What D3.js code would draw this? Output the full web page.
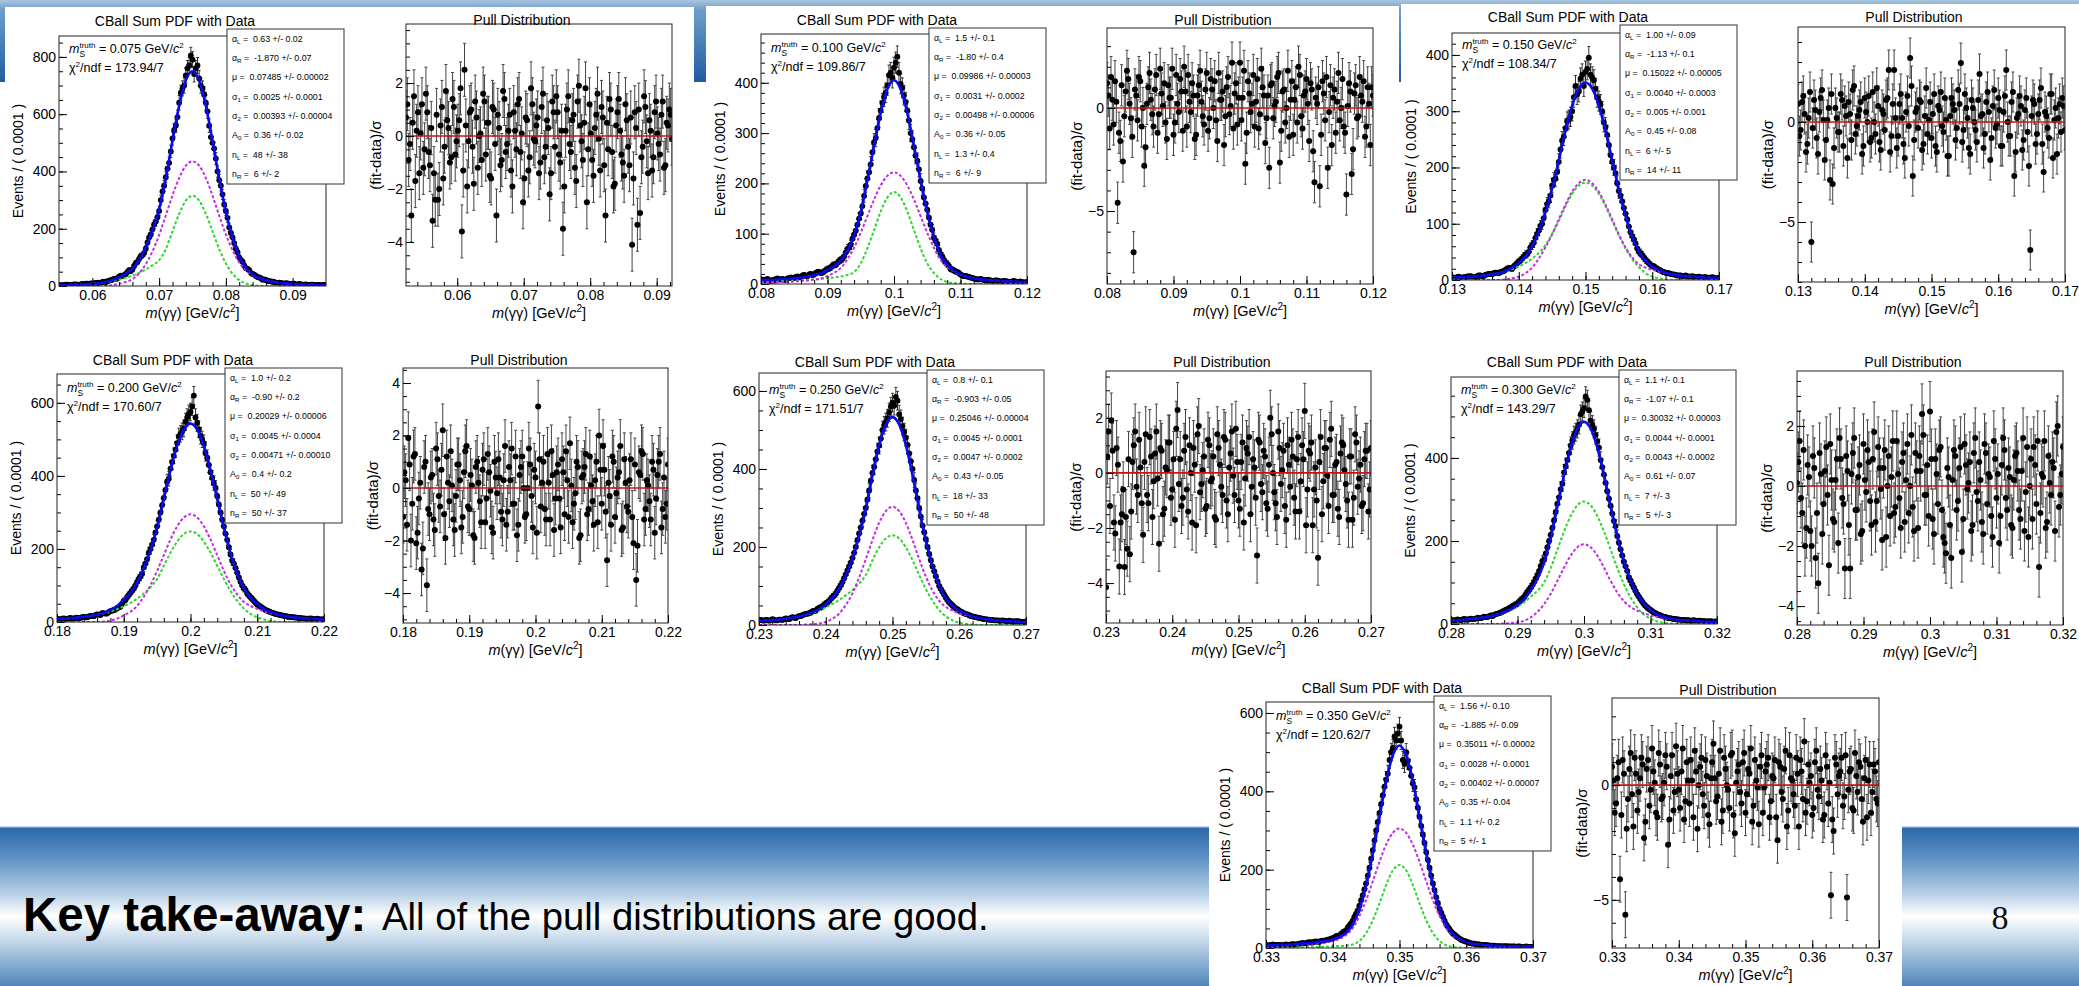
<!DOCTYPE html>
<html><head><meta charset="utf-8">
<script src="https://cdn.jsdelivr.net/npm/d3@7"></script>
<style>
html,body{margin:0;padding:0;background:#fff;overflow:hidden;}
svg{display:block;font-family:"Liberation Sans",Arial,Helvetica,sans-serif;}
</style></head>
<body><svg id="c" width="2079" height="986"></svg>
<script>
// ---------------- DATA ----------------
const massPoints = ["0.075","0.100","0.150","0.200","0.250","0.300","0.350"];
const chi2Ndf = ["173.94/7","109.86/7","108.34/7","170.60/7","171.51/7","143.29/7","120.62/7"];
const massRanges = [[0.055,0.095],[0.08,0.12],[0.13,0.17],[0.18,0.22],[0.23,0.27],[0.28,0.32],[0.33,0.37]];
const pullRanges = [[0.0523,0.0923],[0.08,0.12],[0.13,0.17],[0.18,0.22],[0.23,0.27],[0.28,0.32],[0.33,0.37]];
const eventsMax = [873,497,439,679,646,595,628];
const eventsTicks = [[0,200,400,600,800],[0,100,200,300,400],[0,100,200,300,400],[0,200,400,600],[0,200,400,600],[0,200,400],[0,200,400,600]];
const pullLimits = [[-5.66,4.23],[-8.54,3.88],[-8.0,4.75],[-5.14,4.57],[-5.45,3.7],[-4.63,3.83],[-7.1,3.8]];
const pullTicks = [[-4,-2,0,2],[-5,0],[-5,0],[-4,-2,0,2,4],[-4,-2,0,2],[-4,-2,0,2],[-5,0]];
const paramNames = [["α","L"],["α","R"],["μ",""],["σ","1"],["σ","2"],["A","0"],["n","L"],["n","R"]];
const paramValues = [
 ["0.63 +/- 0.02","-1.870 +/- 0.07","0.07485 +/- 0.00002","0.0025 +/- 0.0001","0.00393 +/- 0.00004","0.36 +/- 0.02","48 +/- 38","6 +/- 2"],
 ["1.5 +/- 0.1","-1.80 +/- 0.4","0.09986 +/- 0.00003","0.0031 +/- 0.0002","0.00498 +/- 0.00006","0.36 +/- 0.05","1.3 +/- 0.4","6 +/- 9"],
 ["1.00 +/- 0.09","-1.13 +/- 0.1","0.15022 +/- 0.00005","0.0040 +/- 0.0003","0.005 +/- 0.001","0.45 +/- 0.08","6 +/- 5","14 +/- 11"],
 ["1.0 +/- 0.2","-0.90 +/- 0.2","0.20029 +/- 0.00006","0.0045 +/- 0.0004","0.00471 +/- 0.00010","0.4 +/- 0.2","50 +/- 49","50 +/- 37"],
 ["0.8 +/- 0.1","-0.903 +/- 0.05","0.25046 +/- 0.00004","0.0045 +/- 0.0001","0.0047 +/- 0.0002","0.43 +/- 0.05","18 +/- 33","50 +/- 48"],
 ["1.1 +/- 0.1","-1.07 +/- 0.1","0.30032 +/- 0.00003","0.0044 +/- 0.0001","0.0043 +/- 0.0002","0.61 +/- 0.07","7 +/- 3","5 +/- 3"],
 ["1.56 +/- 0.10","-1.885 +/- 0.09","0.35011 +/- 0.00002","0.0028 +/- 0.0001","0.00402 +/- 0.00007","0.35 +/- 0.04","1.1 +/- 0.2","5 +/- 1"]
];
// fit curves sampled every 0.001 GeV across each mass range
const curveStep = 0.001;
const fitTotal = [
 [3,3,4,5,6,8,10,14,20,30,43,60,91,134,193,268,375,507,629,718,750,718,629,507,375,259,168,103,64,41,28,20,15,11,9,7,6,5,4,3,3],
 [8,8,8,10,10,12,13,15,18,21,28,35,47,67,96,143,206,275,340,387,405,387,340,275,206,143,94,58,38,27,19,14,11,9,8,7,6,5,5,4,4],
 [4,5,5,6,7,8,10,12,16,22,30,42,60,86,120,163,213,265,310,340,351,340,310,265,213,160,114,77,51,34,24,18,13,10,8,7,6,5,4,4,3],
 [8,9,10,12,14,17,20,25,33,44,61,80,108,147,196,258,337,416,482,527,543,527,482,416,337,258,188,133,92,66,49,36,27,21,17,14,12,10,9,8,7],
 [10,11,12,14,16,19,22,27,33,41,53,70,93,127,171,228,297,384,461,514,533,514,461,384,297,216,150,100,68,49,36,28,22,18,15,13,11,10,9,8,7],
 [8,9,10,12,14,16,19,23,29,36,46,60,82,109,148,208,283,359,425,471,487,471,425,359,283,211,151,105,72,49,34,23,17,13,10,9,8,7,6,5,5],
 [7,7,8,8,9,11,12,13,16,18,22,28,39,60,100,160,241,334,425,492,517,492,425,334,241,160,100,59,36,23,15,11,9,7,6,5,5,4,4,4,3]
];
const fitCompMagenta = [
 [0,0,0,0,0,0,0,1,3,8,14,24,45,76,121,178,246,316,377,420,435,420,377,316,246,180,125,82,55,38,27,20,15,11,9,7,6,5,4,3,3],
 [3,3,3,4,4,5,6,7,9,11,16,22,32,49,72,102,135,168,196,215,222,215,196,168,135,102,72,48,34,25,18,14,11,9,8,7,6,5,5,4,4],
 [0,0,0,0,0,0,0,0,1,3,6,12,22,38,58,81,108,134,157,172,178,172,157,134,108,81,58,40,28,22,18,15,12,10,8,7,6,5,4,4,3],
 [0,0,0,0,0,0,0,1,4,9,18,28,44,69,101,140,183,226,262,286,295,286,262,226,183,140,103,75,55,44,36,29,24,20,17,14,12,10,9,8,7],
 [0,0,0,0,0,0,0,1,2,4,8,16,29,51,81,122,169,218,262,292,303,292,262,218,169,124,88,62,46,37,30,25,21,18,15,13,11,10,9,8,7],
 [0,0,0,0,0,0,0,0,1,2,4,8,16,29,48,73,104,136,165,185,192,185,165,136,104,76,55,41,32,26,21,17,14,12,10,9,8,7,6,5,5],
 [6,6,7,7,8,9,10,11,13,15,18,23,33,51,82,122,170,220,264,294,305,294,264,220,170,122,82,52,33,22,15,11,9,7,6,5,5,4,4,4,3]
];
const fitCompGreen = [
 [3,3,4,5,6,8,10,13,17,22,29,36,46,58,72,90,129,191,252,298,315,298,252,191,129,79,43,21,9,3,1,0,0,0,0,0,0,0,0,0,0],
 [5,5,5,6,6,7,7,8,9,10,12,13,15,18,24,41,71,107,144,172,183,172,144,107,71,41,22,10,4,2,1,0,0,0,0,0,0,0,0,0,0],
 [4,5,5,6,7,8,10,12,15,19,24,30,38,48,62,82,105,131,153,168,173,168,153,131,105,79,56,37,23,12,6,3,1,0,0,0,0,0,0,0,0],
 [8,9,10,12,14,17,20,24,29,35,43,52,64,78,95,118,154,190,220,241,248,241,220,190,154,118,85,58,37,22,13,7,3,1,0,0,0,0,0,0,0],
 [10,11,12,14,16,19,22,26,31,37,45,54,64,76,90,106,128,166,199,222,230,222,199,166,128,92,62,38,22,12,6,3,1,0,0,0,0,0,0,0,0],
 [8,9,10,12,14,16,19,23,28,34,42,52,66,80,100,135,179,223,260,286,295,286,260,223,179,135,96,64,40,23,13,6,3,1,0,0,0,0,0,0,0],
 [1,1,1,1,1,2,2,2,3,3,4,5,6,9,18,38,71,114,161,198,212,198,161,114,71,38,18,7,3,1,0,0,0,0,0,0,0,0,0,0,0]
];
// event counts per 0.0001 GeV: one value every 0.0005 GeV from the range start ...
const dataStep = 0.0005;
const eventCounts = [
 [4,2,5,3,4,6,4,7,8,6,9,11,9,14,13,19,22,24,33,35,42,55,58,80,95,108,130,170,198,225,262,330,380,430,515,560,640,690,735,770,790,760,725,690,640,560,500,445,370,320,262,205,170,130,100,85,62,55,42,35,30,22,21,17,15,11,12,9,10,7,8,6,7,5,6,4,5,3,4,3,4],
 [9,7,10,6,8,11,9,8,11,13,12,15,14,18,16,20,19,24,22,25,30,33,38,42,48,55,70,78,98,118,140,175,210,238,282,310,345,372,395,420,430,452,398,375,345,300,272,245,205,172,148,118,92,80,60,48,40,30,27,24,19,16,15,13,11,9,10,8,8,7,6,7,5,6,5,4,6,4,5,3,4],
 [5,3,6,4,5,7,6,5,8,7,9,11,10,13,12,15,18,21,20,27,33,38,45,50,62,75,88,100,125,140,168,180,210,248,270,285,300,345,335,365,370,395,360,340,318,300,272,240,210,190,158,140,118,95,78,65,50,44,36,30,25,22,18,15,13,12,10,9,8,7,8,6,7,5,6,4,5,4,5,3,4],
 [9,7,10,8,11,9,12,11,14,13,17,16,21,19,24,23,30,33,38,42,58,68,80,92,110,125,150,172,200,225,262,300,340,385,420,455,490,515,530,560,575,620,545,510,490,450,410,380,345,300,262,225,185,160,135,110,92,78,68,58,48,42,36,31,27,24,21,19,17,15,14,13,12,11,10,9,10,8,9,7,8],
 [14,12,13,11,15,12,14,13,17,15,20,18,23,25,28,30,35,37,44,48,55,62,72,80,95,110,130,150,172,200,235,268,300,345,390,425,460,500,520,545,570,585,540,510,480,440,400,345,300,255,220,182,150,125,100,85,70,58,50,42,37,32,28,25,22,20,18,16,15,14,13,12,11,12,10,11,9,10,9,8,9],
 [10,8,11,9,12,10,13,12,15,14,18,17,21,22,25,28,32,36,40,45,50,58,65,78,88,102,118,140,155,185,215,250,290,325,365,395,430,455,470,505,520,540,490,470,440,395,360,320,285,248,212,180,150,128,105,88,72,60,48,40,34,28,24,21,18,15,14,12,11,10,10,9,8,9,7,8,7,6,7,5,6],
 [8,6,9,7,8,7,9,8,10,9,11,13,12,15,14,17,16,19,20,22,25,30,32,40,45,58,70,88,108,135,165,205,250,300,345,390,430,480,510,530,565,480,500,460,420,380,335,290,245,205,165,130,100,80,60,48,37,30,24,19,16,13,11,10,9,8,7,6,6,5,5,4,5,4,4,3,4,3,4,3,3]
];
// ... and the bins lying halfway between them
const eventCountsOffset = [
 [3,4,5,4,6,5,6,6,8,9,9,12,11,15,17,20,25,27,36,38,49,52,70,84,104,115,152,180,215,240,300,350,410,470,545,590,675,700,760,805,740,770,700,670,610,520,480,400,350,285,238,185,150,118,90,72,60,46,40,31,27,23,18,16,14,10,11,8,9,6,8,5,6,5,4,5,3,4,3,4],
 [8,9,7,8,10,9,10,9,12,11,14,13,17,16,19,18,22,24,23,28,31,37,39,46,50,63,72,90,106,130,155,195,222,262,290,330,360,380,415,410,440,420,390,362,325,288,255,228,190,160,132,108,86,68,55,43,36,29,25,22,17,16,14,12,10,9,9,7,8,6,7,6,5,6,4,5,5,4,4,3],
 [4,5,4,5,6,7,5,7,8,7,10,11,12,13,14,16,20,21,24,30,35,42,46,58,66,82,96,110,135,150,178,192,232,255,282,290,325,330,358,345,375,365,355,325,312,280,258,222,200,172,150,128,108,85,72,56,48,40,33,27,24,20,17,14,12,11,10,8,8,7,7,6,6,5,5,5,4,4,4,3],
 [8,9,9,10,10,11,11,13,13,15,16,19,20,24,23,27,31,34,40,50,60,74,86,100,118,132,160,190,212,245,280,320,362,392,438,472,508,522,548,570,590,560,528,500,462,430,395,368,322,280,242,205,168,148,122,100,88,73,63,53,45,39,33,29,25,22,20,18,16,14,13,12,11,10,9,9,9,8,8,7],
 [13,11,13,12,14,12,14,15,16,18,19,21,23,27,29,32,36,41,45,52,58,67,76,88,102,120,140,160,185,218,250,285,322,370,405,445,478,512,530,560,562,575,528,495,462,420,372,325,278,238,200,166,138,112,92,78,64,54,46,40,34,30,27,23,21,19,17,15,14,13,12,12,11,11,10,10,9,10,8,8],
 [9,10,10,11,11,12,12,13,14,16,17,19,19,24,26,30,34,38,43,47,54,61,72,82,95,110,128,152,170,200,232,270,305,338,380,412,442,462,480,512,548,515,480,455,425,378,340,302,266,236,196,165,139,112,96,80,66,54,44,37,31,26,22,19,17,14,13,12,11,10,9,9,8,8,8,7,7,6,6,6],
 [7,8,8,8,7,8,8,9,9,10,12,12,14,14,16,16,18,19,21,24,27,31,36,42,52,63,80,96,122,150,185,228,275,322,368,412,445,500,540,548,530,470,478,440,410,358,312,268,225,185,148,115,90,70,54,42,34,27,21,18,15,12,11,9,8,8,7,6,6,5,5,5,4,4,4,4,3,3,3,3]
];
// pulls (fit-data)/sigma: 101 bin edges-aligned values over each pull range ...
const pullValues = [
 [0.7,-0.9,-3.0,1.5,0.2,-1.4,1.2,-0.5,0.9,-1.1,-3.2,-2.4,-2.4,0.4,-1.6,1.7,0.3,-0.8,1.1,-0.2,0.6,-3.6,2.5,-1.9,0.9,-0.4,1.3,-1.2,0.1,1.6,-0.7,0.5,-1.6,1.0,-3.0,0.3,-0.9,1.4,-0.3,0.8,-1.9,0.2,1.2,-0.6,-2.5,0.7,-1.3,1.8,-0.1,0.4,-1.4,1.1,-0.8,0.6,-2.2,1.3,-0.4,0.9,-1.0,-3.5,0.2,1.5,-0.6,0.8,-1.7,1.9,-0.2,0.5,-2.5,1.2,-0.9,0.3,1.6,-1.3,0.7,-3.0,-0.5,1.0,-1.9,0.4,1.4,-0.7,-1.5,0.6,-1.1,-4.1,0.9,-3.35,-2.9,-0.4,1.1,-1.4,0.2,-0.8,1.3,-0.3,0.8,-1.2,0.5,1.0,-0.1],
 [1.2,-1.0,0.4,1.3,-4.6,-1.6,-2.6,0.8,1.4,-0.5,-7.0,0.6,1.5,-0.9,-2.8,0.2,1.7,-0.3,0.9,-1.2,1.9,0.1,-0.7,1.1,0.5,-1.3,1.6,-0.2,0.8,2.0,-0.9,0.3,1.2,-1.5,0.6,1.8,-0.4,0.9,-1.1,1.4,0.0,-0.6,1.7,0.4,-1.8,1.0,-0.3,2.2,0.7,-0.8,2.2,0.5,-2.7,1.3,-0.2,1.6,0.3,-1.0,1.9,0.6,-0.5,-2.9,1.2,0.1,1.5,-2.65,0.8,-0.7,1.8,0.4,-1.3,1.0,2.0,-0.4,0.6,1.4,-1.6,0.9,-3.6,0.2,-3.8,1.3,-0.6,-2.9,1.1,0.5,-1.2,1.7,0.0,-0.9,-4.2,1.2,-3.2,0.7,-0.5,1.5,0.3,-1.4,1.0,-1.8,0.6],
 [0.9,-0.4,1.3,-1.5,0.2,-6.0,1.1,-0.8,0.5,1.6,-1.9,0.1,-2.9,-3.1,0.7,-0.5,1.4,-1.2,0.3,1.0,-0.9,1.8,-0.2,0.6,-1.6,1.2,0.0,-1.0,1.5,-0.6,0.8,-1.4,0.4,1.1,2.6,-0.7,2.6,-1.3,0.9,0.2,-1.8,1.3,3.2,-2.7,0.5,-0.3,1.0,-1.1,1.7,0.1,-0.8,1.4,-1.5,0.6,-0.2,1.2,-1.7,0.3,0.9,-0.9,1.6,2.95,-0.4,0.7,-1.3,1.1,0.0,-1.0,2.4,0.4,-0.6,1.5,-1.9,0.8,-0.3,1.2,-1.2,0.5,2.6,-0.7,1.0,-2.7,0.2,1.3,-1.4,0.6,-0.5,-6.4,1.1,-1.1,0.4,1.7,-2.5,0.3,-0.8,1.4,0.1,-1.6,0.9,1.2,-0.4],
 [-1.1,0.3,1.9,-2.0,1.2,-2.1,-0.4,-3.1,0.8,-3.7,-1.0,0.5,-1.6,1.1,-0.7,2.2,-1.9,0.2,1.4,-1.2,-0.3,0.9,-1.5,0.6,1.6,-0.8,0.1,-1.9,1.0,-0.5,0.7,-1.3,1.3,-0.1,-1.7,0.4,1.1,-0.9,0.3,-1.4,0.8,1.5,-0.6,-1.8,0.5,1.2,-1.1,0.0,0.9,-1.5,0.4,3.1,-0.7,1.0,-1.2,0.2,1.4,-1.6,0.6,-0.4,1.1,-1.0,0.3,1.7,-1.3,-0.2,0.8,-1.8,0.5,1.3,-0.8,0.1,-1.4,1.0,2.0,-0.6,0.7,-2.75,-0.3,1.2,-1.1,0.4,1.6,-1.5,0.2,-0.9,1.1,-2.1,-3.5,0.6,1.4,-1.2,0.3,-0.5,1.0,-1.7,0.5,1.3,-0.8,-1.1,0.9],
 [-4.15,1.5,1.9,-1.8,0.9,-3.4,-1.5,-3.42,-2.75,-2.95,0.4,1.5,-0.8,0.2,-2.25,1.4,-1.1,0.6,-0.3,1.5,-2.57,0.8,-1.3,0.1,1.1,-0.6,-1.7,2.28,0.5,-0.9,1.3,-1.4,0.0,0.9,-1.9,1.7,-0.4,0.6,-1.2,1.0,-0.2,-1.6,1.4,0.3,-0.8,1.2,-1.5,0.7,-0.1,1.6,-1.0,0.4,-1.8,0.9,1.3,-0.5,0.2,-3.0,1.1,-0.7,0.6,-1.3,2.0,0.0,-1.1,1.5,-0.4,0.8,-1.7,0.3,1.2,-0.9,0.5,-1.4,1.0,2.25,-0.6,0.7,-1.9,0.2,-3.08,1.3,-0.3,0.9,-1.2,1.6,-0.8,0.4,-1.6,1.1,0.1,-1.0,0.6,-1.7,1.4,-0.5,0.3,-1.1,0.8,-1.4,0.9],
 [0.1,1.5,-0.9,-2.0,0.7,-1.5,1.0,-2.4,-3.24,0.4,-0.6,1.3,-2.64,0.2,-1.2,0.9,1.6,-0.4,-2.75,0.5,-2.75,1.1,-0.8,0.3,-1.6,1.4,-0.2,0.8,-1.3,1.8,-0.5,0.6,-1.8,1.2,0.0,-1.0,1.5,-0.7,0.4,-1.4,1.1,0.2,-0.9,1.7,-1.5,0.5,1.0,2.4,-0.3,0.7,2.48,-1.1,0.9,-0.6,1.3,-1.7,-2.24,0.3,-2.4,1.2,-0.8,0.6,-2.2,1.4,-0.1,0.8,-1.3,1.6,-0.5,0.2,-1.6,1.1,0.4,-1.0,1.5,-0.4,-1.9,0.7,1.2,-0.8,0.3,-1.4,1.0,0.5,-1.1,1.6,-0.2,-1.7,0.9,1.3,-0.6,-2.7,0.4,1.5,-1.2,0.1,0.8,-1.5,2.0,-0.3,1.3],
 [0.8,-1.2,0.3,-4.1,1.1,-5.65,-0.6,1.4,-1.8,0.5,-0.3,1.2,-2.3,0.7,-0.9,1.6,0.1,-1.4,0.9,-0.5,1.3,-2.6,0.4,-1.1,1.7,-0.2,0.6,-1.5,1.0,-0.8,0.2,1.5,-1.9,0.8,-0.4,1.1,-1.3,0.3,1.8,-0.7,0.5,-1.6,1.2,0.0,-1.0,1.4,-2.1,0.6,-0.3,1.0,-1.2,0.7,1.6,-0.9,0.2,-1.7,1.3,-0.1,0.9,-1.4,0.4,1.1,-2.4,0.8,-0.6,1.5,-1.1,0.3,-0.4,1.2,-1.8,0.6,1.9,-0.7,0.1,-1.3,1.0,-0.2,0.7,-1.5,1.3,-0.8,-4.8,-2.0,0.9,0.4,1.2,-0.5,-4.9,0.6,-1.0,1.4,-0.3,0.8,-1.6,1.1,0.2,-1.2,0.9,-0.6,1.0]
];
// ... and 100 values for the bins halfway between them
const pullValuesOffset = [
 [1.2,-0.3,0.5,-1.7,0.9,0.1,-1.2,1.6,-0.6,0.3,-1.4,0.8,-2.0,1.1,-0.4,0.6,-1.0,1.4,-0.7,0.2,1.8,-1.3,0.4,-0.2,1.0,-1.8,0.7,0.0,-0.9,1.3,0.5,-1.5,1.1,-0.3,0.8,-1.1,1.7,-0.6,0.2,-1.3,0.9,-0.5,1.4,0.1,-1.6,0.6,-0.8,1.2,-0.2,0.7,-1.0,1.6,-0.4,0.3,-1.4,0.9,1.5,-0.7,0.2,-1.9,1.0,-0.3,0.6,-1.2,1.3,0.4,-0.9,1.8,-0.5,0.1,-1.5,0.8,-0.1,1.1,-1.1,0.5,1.4,-0.6,-1.8,0.9,0.2,-1.0,1.2,-0.4,0.7,-1.6,0.3,1.0,-0.8,1.5,-0.2,0.6,-1.3,0.9,0.1,-0.7,1.3,-1.1,0.4,0.8],
 [0.6,1.5,-0.8,0.3,-1.2,1.1,-0.4,1.8,0.2,-1.4,0.9,-0.6,1.3,0.0,-1.9,1.0,0.4,-0.9,1.6,-0.3,0.7,1.2,-1.5,0.5,1.9,-0.7,0.2,1.4,-1.1,0.8,1.6,-0.2,0.6,-1.3,1.1,0.3,-0.8,1.7,-0.5,0.9,1.3,-1.6,0.4,0.8,-0.4,1.5,0.1,-1.0,1.2,0.5,-0.6,1.8,-1.2,0.7,0.2,-0.9,1.4,-0.3,1.0,-1.7,0.6,1.1,-0.5,0.3,1.7,-1.1,0.9,0.0,-1.4,1.3,0.4,-0.7,1.6,-1.0,0.8,0.2,1.2,-2.1,0.5,1.0,-1.3,0.7,1.5,-0.2,-1.8,0.9,0.3,-0.6,1.4,-1.2,0.1,0.8,-2.0,1.1,-0.4,0.6,1.3,-0.9,0.2,1.0],
 [-0.7,1.0,0.4,-1.1,1.5,-0.3,0.6,-1.6,1.2,0.1,-0.9,0.7,1.4,-1.3,0.2,-0.5,1.1,0.8,-1.8,0.4,1.6,-0.6,0.3,1.0,-1.2,0.5,1.3,-0.8,0.0,1.7,-1.0,0.6,-0.4,1.2,-1.5,0.9,0.2,-0.7,1.4,-1.1,0.5,-0.2,1.8,-0.9,0.7,1.1,-1.4,0.3,-0.6,1.0,0.4,-1.2,0.8,1.5,-0.5,0.1,-1.7,1.2,0.6,-0.3,0.9,-1.0,1.4,0.2,-1.6,0.7,-0.4,1.1,0.3,-1.3,1.0,0.5,-0.8,1.6,-0.1,0.6,-1.2,1.3,0.0,-0.7,1.5,-1.5,0.4,0.8,-0.9,1.2,-2.2,0.3,0.9,-0.6,1.1,-1.1,0.5,-0.3,1.4,-1.8,0.7,0.2,-0.5,0.8],
 [0.6,-1.4,0.9,-0.6,1.3,-1.7,0.2,-2.3,1.0,-0.8,0.4,-1.2,1.5,-0.3,0.7,-1.0,1.2,-0.5,0.1,-1.6,0.9,0.3,-1.1,1.4,-0.7,0.5,-1.8,0.8,0.2,-1.3,1.1,-0.4,0.6,-1.5,1.0,-0.2,0.4,-1.2,1.6,-0.9,0.3,-0.6,1.2,-1.4,0.8,0.0,-1.0,1.5,-0.3,0.7,-1.7,1.1,0.2,-0.8,1.3,-1.2,0.5,-0.4,0.9,-1.5,0.6,1.4,-1.1,0.1,-0.6,1.0,-1.9,0.4,0.8,-1.0,1.2,-0.5,0.3,-1.3,0.7,1.6,-0.9,0.2,-1.4,1.0,-0.2,0.6,-1.6,1.1,-0.7,0.3,-1.1,0.9,-2.2,0.5,1.3,-0.8,0.1,-1.2,0.7,-0.4,1.0,-1.5,0.4,-0.6],
 [0.6,-1.2,0.8,-2.2,0.3,-1.8,-0.6,-1.6,0.5,-1.4,1.0,-0.5,1.2,-1.1,0.4,-0.8,1.3,-1.6,0.7,-0.2,0.9,-1.5,0.2,1.1,-0.9,0.5,1.6,-0.4,-1.2,0.8,-0.6,1.0,-1.8,0.3,1.4,-0.7,0.1,-1.3,1.2,-0.3,0.6,-1.7,0.9,-0.5,1.3,-1.0,0.2,1.5,-0.8,0.4,-1.3,1.1,-0.2,0.7,-1.5,0.5,-0.9,1.2,-0.4,0.8,-1.1,0.3,1.4,-0.7,-1.6,0.9,0.1,-1.2,1.0,-0.5,0.6,-1.4,1.3,-0.3,0.5,-1.9,0.8,1.1,-0.6,-1.0,0.4,-1.5,0.9,-0.1,1.2,-0.8,0.3,-1.3,0.7,1.0,-0.4,-1.7,0.6,-0.9,1.1,-0.2,-1.2,0.5,0.8,-0.6],
 [0.8,-0.4,1.2,-1.4,0.3,-2.0,0.6,-0.9,1.1,-1.6,0.5,-0.3,1.4,-1.1,0.2,-1.9,0.9,-0.6,1.0,-1.3,0.4,1.6,-0.8,0.7,-1.5,0.2,1.2,-0.5,0.9,-1.2,1.3,-0.1,0.6,-1.7,1.0,0.3,-0.9,1.5,-0.4,0.8,-1.2,1.4,0.0,-0.7,1.1,-1.4,0.5,1.7,-0.3,-1.0,0.9,-1.6,0.4,1.2,-0.8,-1.9,0.6,-1.3,0.2,1.0,-0.5,1.3,-1.1,0.7,0.1,-1.5,1.1,-0.2,0.8,-1.2,1.4,-0.6,0.3,-1.7,0.9,0.4,-1.0,1.6,-0.4,0.6,-1.3,0.2,1.1,-0.8,0.5,-1.5,1.3,0.0,-1.1,0.7,1.5,-0.9,0.3,-1.4,1.0,-0.3,0.6,1.8,-0.7,0.4],
 [0.2,-0.8,1.0,-1.3,0.5,-1.9,0.7,-0.4,1.2,-1.1,0.3,0.9,-1.6,1.1,-0.2,0.6,-1.2,1.4,-0.6,0.1,0.8,-1.5,1.3,-0.3,0.5,-1.0,1.6,-0.7,0.2,1.1,-1.4,0.6,0.0,1.2,-0.9,0.4,-1.7,1.0,0.3,-0.5,1.5,-1.1,0.7,-0.2,1.3,-1.3,0.1,0.9,-0.8,1.4,-0.4,0.5,-1.6,1.1,-0.1,0.8,-1.2,0.6,1.2,-0.7,0.3,-1.4,1.0,-0.3,0.7,-1.8,1.3,0.2,-0.9,0.5,1.1,-0.6,-1.2,0.9,0.4,-1.0,1.5,-0.5,0.2,-1.3,0.8,0.1,-1.5,1.2,-0.4,0.6,-0.9,1.3,-0.2,0.7,-1.1,0.4,1.0,-0.6,0.3,-1.4,0.9,-0.3,0.6,-0.8]
];

// ---------------- LAYOUT ----------------
const layout = [
 {fit:[59,36,326,286], ft:21, pull:[406,24,672,286], pt:20},
 {fit:[761,34,1027,284], ft:20, pull:[1107,28,1373,284], pt:20},
 {fit:[1452,33,1719,280], ft:17, pull:[1798,27,2065,282], pt:17},
 {fit:[57,374,324,622], ft:360, pull:[403,368,668,623], pt:360},
 {fit:[759,373,1026,625], ft:362, pull:[1106,371,1371,623], pt:362},
 {fit:[1451,377,1717,624], ft:362, pull:[1797,371,2063,625], pt:362},
 {fit:[1266,702,1533,948], ft:688, pull:[1612,698,1879,948], pt:690}
];
const C = {blue:"#0a0af0", mag:"#c22ee6", green:"#2fd62f", red:"#d01010"};

const svg = d3.select("#c");
const defs = svg.append("defs");

function grad(id, stops){
  const g = defs.append("linearGradient").attr("id",id).attr("x1",0).attr("y1",0).attr("x2",0).attr("y2",1);
  stops.forEach(s=>g.append("stop").attr("offset",s[0]).attr("stop-color",s[1]));
}
grad("hdr",[[0,"#a9c5de"],[0.12,"#6e9ecb"],[1,"#1d5ca3"]]);
grad("ban",[[0,"#2a67a9"],[0.18,"#5a8ec3"],[0.42,"#b6cfe5"],[0.56,"#ffffff"],[0.7,"#cadcec"],[0.88,"#80a9cf"],[1,"#5084bb"]]);

svg.append("rect").attr("x",0).attr("y",0).attr("width",2079).attr("height",82).attr("fill","url(#hdr)");
svg.append("rect").attr("x",0).attr("y",827).attr("width",2079).attr("height",159).attr("fill","url(#ban)");
svg.append("rect").attr("x",0).attr("y",826).attr("width",2079).attr("height",1.5).attr("fill","#c3d5e8");
const sheets = [[5,7,694,336],[706,6,1399,336],[1401,4,2079,336],[1209,660,1902,986]];
sheets.forEach(s=>svg.append("rect").attr("x",s[0]).attr("y",s[1]).attr("width",s[2]-s[0]).attr("height",s[3]-s[1]).attr("fill","#fff"));

function rich(parent, x, y, pieces, size){
  let cx = x, segStart = x, segEnd = x;
  pieces.forEach(p=>{
    const sx = p.stack ? segStart : cx;
    const t = parent.append("text").attr("x",sx).attr("y",y+(p.b||0)).attr("font-size",p.s||size).text(p.t);
    if (p.it) t.attr("font-style","italic");
    const w = t.node().getComputedTextLength();
    if (p.stack) cx = Math.max(segEnd, sx+w);
    else { segStart = sx; segEnd = sx+w; cx = sx+w; }
  });
  return cx;
}
function centeredRich(parent, cx, y, pieces, size){
  const g = parent.append("g");
  rich(g, 0, 0, pieces, size);
  const bb = g.node().getBBox();
  g.attr("transform",`translate(${cx-bb.x-bb.width/2},${y})`);
}
const nb = s => s.replace(/ /g,"\u00A0");
const fmtMass = v => String(+v.toFixed(3));
const fmtSigned = v => v<0 ? "\u2212"+Math.abs(v) : String(v);
const xTitle = [{t:"m",it:true},{t:nb("(γγ) [GeV/")},{t:"c",it:true},{t:"2",s:10,b:-6},{t:"]"}];

function styleAxis(sel, fs){
  sel.select(".domain").remove();
  sel.selectAll(".tick line").attr("stroke","#000").attr("stroke-width",1);
  sel.selectAll(".tick text").attr("font-size",fs).attr("fill","#000")
     .attr("font-family","'Liberation Sans',Arial,Helvetica,sans-serif");
}
function massTicks(lo,hi,step){
  return d3.range(Math.ceil(lo/step-1e-6), Math.floor(hi/step+1e-6)+1).map(k=>+(k*step).toFixed(4));
}
function drawAxes(g, x, y, x0,y0,x1,y1, lo,hi, yMajor, yMinor, yFmt){
  g.append("g").attr("transform",`translate(0,${y1})`)
    .call(d3.axisBottom(x).tickValues(massTicks(lo,hi,0.002)).tickSize(-4).tickFormat(""))
    .call(s=>styleAxis(s,14));
  g.append("g").attr("transform",`translate(0,${y1})`)
    .call(d3.axisBottom(x).tickValues(massTicks(lo,hi,0.01)).tickSize(-8).tickPadding(4).tickFormat(fmtMass))
    .call(s=>styleAxis(s,14));
  g.append("g").attr("transform",`translate(${x0},0)`)
    .call(d3.axisLeft(y).tickValues(yMinor).tickSize(-4).tickFormat(""))
    .call(s=>styleAxis(s,14));
  g.append("g").attr("transform",`translate(${x0},0)`)
    .call(d3.axisLeft(y).tickValues(yMajor).tickSize(-8).tickPadding(3).tickFormat(yFmt))
    .call(s=>styleAxis(s,14));
  g.append("rect").attr("x",x0).attr("y",y0).attr("width",x1-x0).attr("height",y1-y0)
    .attr("fill","none").attr("stroke","#222").attr("stroke-width",1);
}

function drawFit(i){
  const L = layout[i]; const [x0,y0,x1,y1] = L.fit; const [lo,hi] = massRanges[i];
  const x = d3.scaleLinear().domain([lo,hi]).range([x0,x1]);
  const y = d3.scaleLinear().domain([0,eventsMax[i]]).range([y1,y0]);
  const g = svg.append("g");
  defs.append("clipPath").attr("id","cf"+i).append("rect").attr("x",x0).attr("y",y0).attr("width",x1-x0).attr("height",y1-y0);
  const pg = g.append("g").attr("clip-path",`url(#cf${i})`);
  const pts = eventCounts[i].map((v,j)=>({m:lo+j*dataStep, v}))
    .concat(eventCountsOffset[i].map((v,j)=>({m:lo+(j+0.5)*dataStep, v})));
  pg.append("g").selectAll("path").data(pts).join("path")
    .attr("d",d=>{const e=Math.sqrt(d.v), X=x(d.m), a=y(d.v+e), b=y(d.v-e);
      return `M${X},${a}V${b}M${X-1.5},${a}h3M${X-1.5},${b}h3`;})
    .attr("stroke","#333").attr("stroke-width",1).attr("fill","none");
  pg.append("g").selectAll("circle").data(pts).join("circle")
    .attr("cx",d=>x(d.m)).attr("cy",d=>y(d.v)).attr("r",2.9).attr("fill","#000");
  const line = d3.line().x(d=>x(d[0])).y(d=>y(d[1])).curve(d3.curveMonotoneX);
  const toPts = arr => arr.map((v,k)=>[lo+k*curveStep, v]);
  pg.append("path").attr("d",line(toPts(fitCompGreen[i]))).attr("fill","none").attr("stroke",C.green).attr("stroke-width",2).attr("stroke-dasharray","3,2");
  pg.append("path").attr("d",line(toPts(fitCompMagenta[i]))).attr("fill","none").attr("stroke",C.mag).attr("stroke-width",2).attr("stroke-dasharray","3,2");
  pg.append("path").attr("d",line(toPts(fitTotal[i]))).attr("fill","none").attr("stroke",C.blue).attr("stroke-width",2.6);

  const step = eventsTicks[i][1]-eventsTicks[i][0];
  const mstep = step===200 ? 50 : 20;
  const minors = d3.range(0, eventsMax[i]+1e-6, mstep);
  drawAxes(g, x, y, x0,y0,x1,y1, lo,hi, eventsTicks[i], minors, d3.format("d"));

  g.append("text").attr("x",x0+116).attr("y",L.ft+5).attr("text-anchor","middle").attr("font-size",14).text("CBall Sum PDF with Data");
  g.append("text").attr("transform",`translate(${x0-36},${(y0+y1)/2}) rotate(-90)`).attr("text-anchor","middle")
    .attr("font-size",14).text(nb("Events / ( 0.0001 )"));
  centeredRich(g, (x0+x1)/2, y1+32, xTitle, 14.5);
  rich(g, x0+10, L.ft+32, [{t:"m",it:true},{t:"truth",s:8,b:-5},{t:"S",s:8.5,b:3.5,stack:true},
    {t:nb(" = "+massPoints[i]+" GeV/")},{t:"c",it:true},{t:"2",s:8,b:-5}], 12.5);
  rich(g, x0+10, L.ft+51, [{t:"χ"},{t:"2",s:8,b:-5},{t:nb("/ndf = "+chi2Ndf[i])}], 12.5);
  const bx = x0+168, by = L.ft+8;
  g.append("rect").attr("x",bx).attr("y",by).attr("width",117).attr("height",155).attr("fill","#fff").attr("stroke","#333").attr("stroke-width",1);
  paramNames.forEach((pn,r)=>{
    const ps = [{t:pn[0]}];
    if (pn[1]) ps.push({t:pn[1],s:6.2,b:2});
    ps.push({t:nb(" =  "+paramValues[i][r])});
    rich(g, bx+5, by+12.8+r*19.3, ps, 8.8);
  });
}

function drawPull(i){
  const L = layout[i]; const [x0,y0,x1,y1] = L.pull; const [lo,hi] = pullRanges[i];
  const x = d3.scaleLinear().domain([lo,hi]).range([x0,x1]);
  const y = d3.scaleLinear().domain(pullLimits[i]).range([y1,y0]);
  const g = svg.append("g");
  defs.append("clipPath").attr("id","cp"+i).append("rect").attr("x",x0).attr("y",y0).attr("width",x1-x0).attr("height",y1-y0);
  const pg = g.append("g").attr("clip-path",`url(#cp${i})`);
  const w = (hi-lo)/(pullValues[i].length-1);
  const pts = pullValues[i].map((v,j)=>({m:lo+j*w, v}))
    .concat(pullValuesOffset[i].map((v,j)=>({m:lo+(j+0.5)*w, v})));
  pg.append("g").selectAll("path").data(pts).join("path")
    .attr("d",d=>{const X=x(d.m), a=y(d.v+1), b=y(d.v-1);
      return `M${X},${a}V${b}M${X-1.5},${a}h3M${X-1.5},${b}h3`;})
    .attr("stroke","#444").attr("stroke-width",1).attr("fill","none");
  pg.append("g").selectAll("circle").data(pts).join("circle")
    .attr("cx",d=>x(d.m)).attr("cy",d=>y(d.v)).attr("r",3).attr("fill","#000");
  pg.append("line").attr("x1",x0).attr("x2",x1).attr("y1",y(0)).attr("y2",y(0)).attr("stroke",C.red).attr("stroke-width",1.6);

  const t = pullTicks[i]; const st = t[1]-t[0]; const ms = st===2 ? 0.5 : 1;
  const [pl,ph] = pullLimits[i];
  const minors = d3.range(Math.ceil(pl/ms)*ms, ph+1e-6, ms);
  drawAxes(g, x, y, x0,y0,x1,y1, lo,hi, t, minors, fmtSigned);
  g.append("text").attr("x",x0+116).attr("y",L.pt+5).attr("text-anchor","middle").attr("font-size",14).text("Pull Distribution");
  g.append("text").attr("transform",`translate(${x0-25},${(y0+y1)/2}) rotate(-90)`).attr("text-anchor","middle")
    .attr("font-size",15).text("(fit-data)/σ");
  centeredRich(g, (x0+x1)/2, y1+32, xTitle, 14.5);
}

for (let i=0;i<7;i++){ drawFit(i); drawPull(i); }

svg.append("text").attr("x",23).attr("y",931).attr("font-size",47.5).attr("font-weight","bold").text("Key take-away:");
svg.append("text").attr("x",382).attr("y",930).attr("font-size",38.3).text("All of the pull distributions are good.");
svg.append("text").attr("x",2000).attr("y",929).attr("text-anchor","middle").attr("font-size",34)
  .attr("font-family","'Liberation Serif','DejaVu Serif',serif").attr("fill","#111").text("8");
</script>
</body></html>
